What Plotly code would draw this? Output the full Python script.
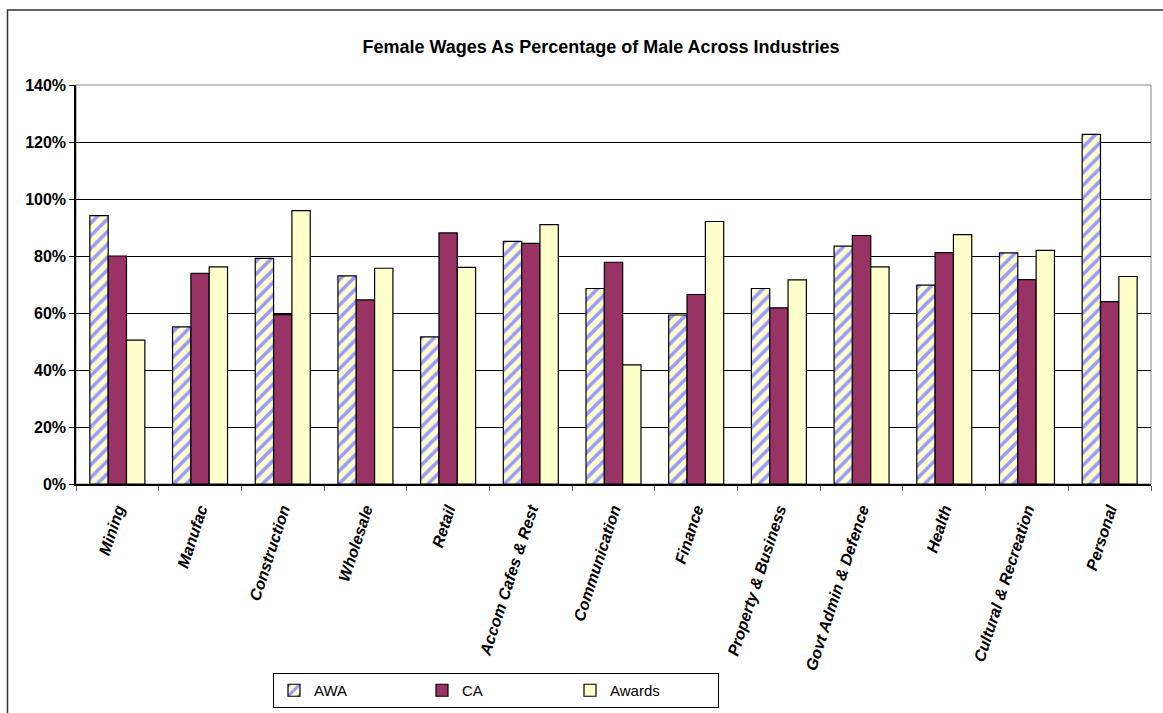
import plotly.graph_objects as go

categories = ["Mining", "Manufac", "Construction", "Wholesale", "Retail",
              "Accom Cafes & Rest", "Communication", "Finance",
              "Property & Business", "Govt Admin & Defence", "Health",
              "Cultural & Recreation", "Personal"]
awa = [0.942, 0.551, 0.792, 0.730, 0.516, 0.851, 0.686, 0.593, 0.686, 0.835, 0.698, 0.811, 1.227]
ca = [0.800, 0.739, 0.594, 0.646, 0.881, 0.844, 0.778, 0.665, 0.618, 0.872, 0.812, 0.717, 0.640]
awards = [0.505, 0.762, 0.959, 0.757, 0.760, 0.910, 0.418, 0.921, 0.716, 0.762, 0.875, 0.820, 0.728]

title_text = "Female Wages As Percentage of Male Across Industries"

W, H = 1163, 713
L, R, T, B = 76, 1151, 85, 484
FONT = "Arial, Liberation Sans, sans-serif"

def px_x(p):
    return (p - L) / (R - L)

def px_y(p):
    return (B - p) / (B - T)

outline = dict(color="black", width=1.2)

fig = go.Figure()
fig.add_trace(go.Bar(
    x=categories, y=awa, name="AWA",
    marker=dict(color="#FFFFCC", line=outline,
                pattern=dict(shape="/", fgcolor="#9999FF", bgcolor="#FFFFCC",
                             size=9, solidity=0.4, fillmode="replace")),
))
fig.add_trace(go.Bar(
    x=categories, y=ca, name="CA",
    marker=dict(color="#993366", line=outline),
))
fig.add_trace(go.Bar(
    x=categories, y=awards, name="Awards",
    marker=dict(color="#FFFFCC", line=outline),
))

fig.update_layout(
    width=W, height=H,
    margin=dict(l=L, r=W - R, t=T, b=H - B, pad=0, autoexpand=False),
    paper_bgcolor="white", plot_bgcolor="white",
    barmode="group", bargap=0.335, bargroupgap=0,
    font=dict(family=FONT, color="black"),
    title=dict(text="<b>" + title_text + "</b>", x=601 / W, xanchor="center",
               y=1 - 47 / H, yanchor="middle",
               font=dict(size=18, family=FONT)),
    showlegend=True,
    legend=dict(orientation="h", x=px_x(273), xanchor="left",
                y=px_y(673), yanchor="top",
                bordercolor="black", borderwidth=1, bgcolor="white",
                font=dict(size=15), entrywidth=103, entrywidthmode="pixels",
                itemwidth=30, traceorder="normal", tracegroupgap=0),
    shapes=[
        dict(type="rect", xref="paper", yref="paper", x0=0, x1=1, y0=0, y1=1,
             line=dict(color="#888888", width=1), layer="below"),
        dict(type="rect", xref="paper", yref="paper",
             x0=px_x(7.5), x1=px_x(1175), y0=px_y(10), y1=px_y(780),
             line=dict(color="#333333", width=1.5), layer="below"),
    ],
)

fig.update_xaxes(
    type="category", showline=True, linecolor="black", linewidth=1.5,
    ticks="outside", tickson="boundaries", ticklen=5, tickcolor="#555555",
    tickangle=-72, showgrid=False, ticklabelstandoff=8, automargin=False,
    tickfont=dict(size=16, family=FONT, weight="bold", style="italic"),
)
fig.update_yaxes(
    range=[0, 1.4], dtick=0.2, tickformat=".0%", automargin=False,
    showline=True, linecolor="black", linewidth=1.5,
    ticks="outside", ticklen=5, tickcolor="black",
    showgrid=True, gridcolor="black", gridwidth=1, zeroline=False,
    tickfont=dict(size=16, family=FONT, weight="bold"),
)

fig.write_html("out.html")
